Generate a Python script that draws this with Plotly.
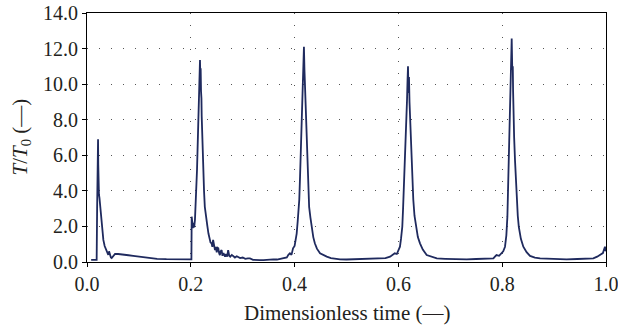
import plotly.graph_objects as go

# Dimensionless time and temperature ratio, by cycle
time_c1 = [0.008, 0.012, 0.016, 0.0186, 0.0195, 0.020, 0.0205, 0.0213, 0.0217, 0.022, 0.0225,
           0.023, 0.024, 0.025, 0.027, 0.0285, 0.030, 0.0315, 0.034, 0.0366, 0.039, 0.041,
           0.0425, 0.044, 0.046, 0.0475, 0.050, 0.054, 0.060, 0.070, 0.080, 0.089, 0.100,
           0.110, 0.121, 0.135, 0.153, 0.170, 0.185, 0.198, 0.2012]
ratio_c1 = [0.12, 0.13, 0.13, 0.12, 3.0, 5.8, 4.4, 6.9, 5.5, 4.3, 5.2,
            3.8, 3.6, 3.3, 2.4, 1.98, 1.55, 1.24, 0.9, 0.67, 0.5, 0.4,
            0.6, 0.35, 0.25, 0.22, 0.3, 0.45, 0.45, 0.43, 0.38, 0.35, 0.3,
            0.26, 0.22, 0.18, 0.16, 0.15, 0.15, 0.15, 0.15]

time_c2 = [0.2017, 0.2025, 0.204, 0.205, 0.2065, 0.208, 0.2095, 0.211, 0.212, 0.213, 0.214,
           0.215, 0.216, 0.2168, 0.2177, 0.2185, 0.219, 0.2197, 0.2205, 0.221, 0.222, 0.223,
           0.224, 0.2255, 0.227, 0.2288, 0.2306, 0.232, 0.234, 0.236, 0.238, 0.240, 0.2415,
           0.243, 0.245, 0.2466, 0.248, 0.250, 0.2515, 0.253, 0.2545, 0.256, 0.2575, 0.2594,
           0.261, 0.263, 0.266, 0.268, 0.270, 0.272, 0.274, 0.276, 0.279, 0.282, 0.285,
           0.2885, 0.2916, 0.295, 0.300, 0.305, 0.310, 0.314, 0.320, 0.326, 0.333, 0.340,
           0.346, 0.352, 0.359, 0.366, 0.372, 0.378, 0.385, 0.388, 0.391, 0.394, 0.397]
ratio_c2 = [2.55, 2.0, 1.9, 2.2, 1.95, 2.36, 3.2, 4.2, 5.2, 6.3, 7.6,
            9.1, 9.8, 10.9, 11.35, 10.2, 10.9, 9.6, 9.2, 8.2, 7.0, 6.0,
            5.0, 4.0, 3.1, 2.6, 2.36, 2.0, 1.6, 1.4, 1.1, 1.05, 0.85,
            1.24, 0.9, 0.67, 0.85, 0.55, 0.8, 0.77, 0.5, 0.39, 0.6, 0.67,
            0.35, 0.5, 0.3, 0.45, 0.3, 0.67, 0.35, 0.3, 0.4, 0.34, 0.25,
            0.32, 0.26, 0.22, 0.25, 0.18, 0.2, 0.2, 0.12, 0.1, 0.11, 0.1,
            0.12, 0.13, 0.15, 0.14, 0.18, 0.2, 0.26, 0.4, 0.49, 0.4, 0.77]

time_c3 = [0.400, 0.402, 0.404, 0.406, 0.4075, 0.409, 0.4105, 0.4123, 0.4136, 0.4148, 0.416,
           0.417, 0.418, 0.419, 0.4199, 0.421, 0.422, 0.4233, 0.4245, 0.426, 0.428, 0.4305,
           0.433, 0.436, 0.439, 0.443, 0.449, 0.455, 0.462, 0.470, 0.4785, 0.4875, 0.500,
           0.520, 0.540, 0.5645, 0.575, 0.584, 0.589, 0.593, 0.597]
ratio_c3 = [0.9, 1.2, 1.6, 2.3, 2.9, 3.5, 4.8, 6.3, 7.8, 9.1, 10.6,
            11.2, 12.1, 10.8, 10.0, 9.1, 8.2, 6.6, 5.35, 4.2, 3.1, 2.5,
            1.98, 1.4, 1.05, 0.75, 0.49, 0.38, 0.3, 0.22, 0.18, 0.15, 0.14,
            0.15, 0.17, 0.19, 0.22, 0.3, 0.4, 0.49, 0.45]

time_c4 = [0.600, 0.603, 0.605, 0.6075, 0.609, 0.611, 0.6125, 0.614, 0.6153, 0.6166, 0.6176,
           0.6185, 0.6195, 0.6204, 0.6214, 0.6224, 0.624, 0.6256, 0.627, 0.6287, 0.631, 0.634,
           0.6375, 0.6416, 0.647, 0.6545, 0.664, 0.674, 0.690, 0.710, 0.7316, 0.750, 0.770,
           0.783, 0.786, 0.789, 0.794, 0.799, 0.802, 0.8054, 0.808]
ratio_c4 = [0.7, 0.86, 1.3, 1.98, 3.0, 4.4, 5.8, 7.2, 8.0, 9.1, 10.2,
            11.0, 9.5, 10.4, 9.0, 8.2, 6.6, 5.35, 4.3, 3.5, 2.6, 1.98,
            1.4, 1.05, 0.7, 0.39, 0.28, 0.2, 0.18, 0.16, 0.15, 0.17, 0.18,
            0.2, 0.3, 0.39, 0.35, 0.49, 0.6, 0.86, 1.5]

time_c5 = [0.810, 0.8115, 0.813, 0.8143, 0.8156, 0.817, 0.8183, 0.8194, 0.8204, 0.821, 0.8214,
           0.823, 0.8247, 0.8265, 0.828, 0.830, 0.832, 0.836, 0.8407, 0.847, 0.8536, 0.863,
           0.873, 0.890, 0.905, 0.924, 0.945, 0.960, 0.9756, 0.983, 0.9884, 0.994, 0.998, 1.0]
ratio_c5 = [2.55, 4.3, 6.3, 8.2, 10.0, 11.0, 12.57, 10.8, 11.0, 9.6, 8.7,
            7.0, 5.7, 4.4, 3.5, 2.6, 1.98, 1.3, 0.86, 0.55, 0.34, 0.25,
            0.2, 0.17, 0.15, 0.15, 0.17, 0.18, 0.2, 0.3, 0.39, 0.5, 0.86, 0.6]

x_ticks = [0.0, 0.2, 0.4, 0.6, 0.8, 1.0]
y_ticks = [0.0, 2.0, 4.0, 6.0, 8.0, 10.0, 12.0, 14.0]
x_title = "Dimensionless time (—)"
y_title = "<i>T</i>/<i>T</i><sub>0</sub> (—)"

time = time_c1 + time_c2 + time_c3 + time_c4 + time_c5
ratio = ratio_c1 + ratio_c2 + ratio_c3 + ratio_c4 + ratio_c5

FONT = "Liberation Serif"
INK = "#231f20"

fig = go.Figure()
fig.add_trace(go.Scatter(x=time, y=ratio, mode="lines",
                         line=dict(color="#1f2a5e", width=1.8), showlegend=False,
                         hoverinfo="skip"))

fig.update_layout(
    width=618, height=328,
    margin=dict(l=87, r=12, t=13, b=66, autoexpand=False),
    paper_bgcolor="white", plot_bgcolor="white",
    font=dict(family=FONT, size=20, color=INK),
)
axis_common = dict(
    showline=True, linecolor="black", linewidth=1, mirror=True,
    ticks="outside", ticklen=4, tickcolor="black",
    showgrid=True, gridcolor="#555555", gridwidth=1, griddash="1px,11px",
    zeroline=False, automargin=False, ticklabeloverflow="allow",
    tickfont=dict(family=FONT, size=20, color=INK),
)
fig.update_xaxes(range=[0, 1], tickvals=x_ticks,
                 ticktext=[f"{v:.1f}" for v in x_ticks], **axis_common)
fig.update_yaxes(range=[0, 14], tickvals=y_ticks,
                 ticktext=[f"{v:.1f}" for v in y_ticks], **axis_common)

fig.add_annotation(text=x_title, xref="paper", yref="paper", x=0.5, y=0,
                   yshift=-51, xanchor="center", yanchor="middle", showarrow=False,
                   font=dict(family=FONT, size=21, color=INK))
fig.add_annotation(text=y_title, xref="paper", yref="paper", x=0, y=0.5,
                   xshift=-67, xanchor="center", yanchor="middle", textangle=-90,
                   showarrow=False, font=dict(family=FONT, size=21, color=INK))

fig.write_html("out.html", config={"displayModeBar": False},
               post_script="document.body.style.margin='0';")
